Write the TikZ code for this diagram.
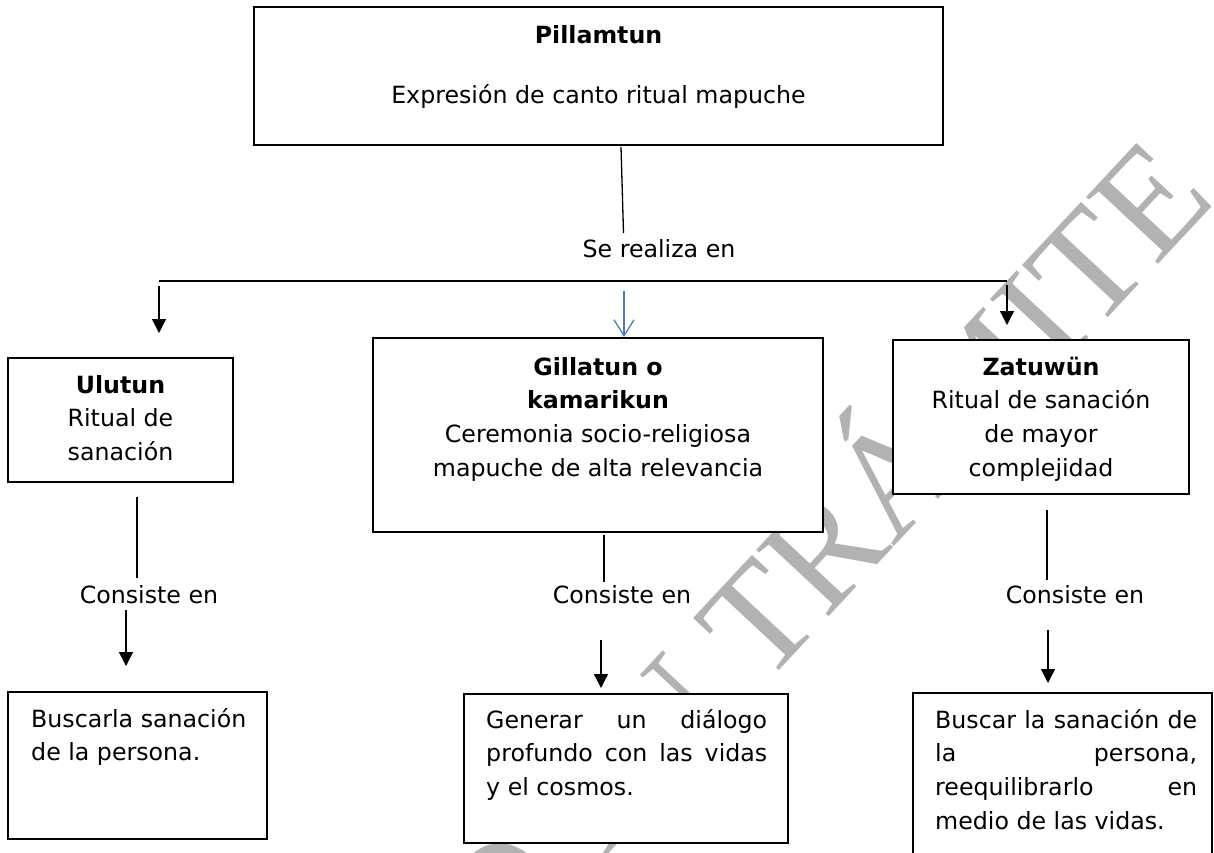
\documentclass[tikz,border=0pt]{standalone}
\usepackage{fontspec}
\setmainfont{DejaVu Sans}
\newfontfamily\wmfont{Liberation Serif}
\usetikzlibrary{arrows.meta}
\definecolor{wmgray}{RGB}{178,178,178}
\definecolor{wordblue}{RGB}{74,126,187}
\newcommand{\mybody}{\fontsize{23.7}{33.7}\selectfont}
\tikzset{
  box/.style={draw, line width=1.5pt, fill=white, inner sep=0pt},
  link/.style={line width=1.3pt},
  darrow/.style={line width=1.3pt, -{Triangle[length=14pt,width=14pt]}},
  barrow/.style={line width=1.3pt, draw=wordblue, -{Straight Barb[length=16pt,width=20pt]}},
  txt/.style={font=\mybody, inner sep=0pt, anchor=base},
  ltxt/.style={font=\mybody, inner sep=0pt, anchor=base west},
  wm/.style={text=wmgray, font=\wmfont\fontsize{150}{150}\selectfont, inner sep=0pt, rotate=47, anchor=base east},
}
\begin{document}
\begin{tikzpicture}[x=1pt,y=-1pt]
\useasboundingbox (0,0) rectangle (1214,852);
\clip (0,0) rectangle (1214,852);
\fill[white] (0,0) rectangle (1214,852);
% watermark
\node[wm] (mark) at (1218,200) {DOCUMENTO EN TRÁMITE};
% boxes
\node[box, minimum width=689pt, minimum height=138pt] (top) at (598.5,76) {};
\node[box, minimum width=225pt, minimum height=124pt] (ulu) at (120.5,420) {};
\node[box, minimum width=450pt, minimum height=194pt] (gil) at (598,435) {};
\node[box, minimum width=296pt, minimum height=154pt] (zat) at (1041,417) {};
\node[box, minimum width=259pt, minimum height=147pt] (bus1) at (137.5,765.5) {};
\node[box, minimum width=324pt, minimum height=149pt] (gen) at (626,768.5) {};
\node[box, minimum width=299pt, minimum height=190pt] (bus2) at (1062.5,788) {};
% texts
\node[txt] (t1) at (598.5,43) {\textbf{Pillamtun}};
\node[txt] (t2) at (598.5,103) {Expresión de canto ritual mapuche};
\node[txt] (ulut) at (120.5,393) {\parbox[t]{220pt}{\mybody\centering\textbf{Ulutun}\\Ritual de\\sanación}};
\node[txt] (gilt) at (598,375) {\parbox[t]{440pt}{\mybody\centering\textbf{Gillatun o}\\\textbf{kamarikun}\\Ceremonia socio-religiosa\\mapuche de alta relevancia}};
\node[txt] (zatt) at (1041,375) {\parbox[t]{290pt}{\mybody\centering\textbf{Zatuwün}\\Ritual de sanación\\de mayor\\complejidad}};
\node[ltxt] (bus1t) at (31,727) {\parbox[t]{230pt}{\mybody Buscarla sanación\\de la persona.}};
\node[ltxt] (gent) at (486,728) {\parbox[t]{281pt}{\mybody\makebox[281pt][s]{Generar un diálogo}\\\makebox[281pt][s]{profundo con las vidas}\\y el cosmos.}};
\node[ltxt] (bus2t) at (935,728) {\parbox[t]{262pt}{\mybody\makebox[262pt][s]{Buscar la sanación de}\\\makebox[262pt][s]{la persona,}\\\makebox[262pt][s]{reequilibrarlo en}\\medio de las vidas.}};
\node[txt] (se) at (659,257) {Se realiza en};
\node[txt] (c1) at (149,603) {Consiste en};
\node[txt] (c2) at (622,603) {Consiste en};
\node[txt] (c3) at (1075,603) {Consiste en};
% connector points
\coordinate (v0a) at (621,147);
\coordinate (v0b) at (623.5,233);
\coordinate (hl) at (159,281);
\coordinate (hr) at (1007,281);
\coordinate (a1a) at (159,286);
\coordinate (a1b) at (159,333);
\coordinate (a2a) at (624,291);
\coordinate (a2b) at (624,337);
\coordinate (a3a) at (1007,285);
\coordinate (a3b) at (1007,325);
\coordinate (l1a) at (137,497);
\coordinate (l1b) at (137,578);
\coordinate (l2a) at (604,535);
\coordinate (l2b) at (604,582);
\coordinate (l3a) at (1047,510);
\coordinate (l3b) at (1047,580);
\coordinate (b1a) at (126,610);
\coordinate (b1b) at (126,666);
\coordinate (b2a) at (601,640);
\coordinate (b2b) at (601,688);
\coordinate (b3a) at (1048,630);
\coordinate (b3b) at (1048,683);
% connectors
\draw[link] (v0a) -- (v0b);
\draw[link] (hl) -- (hr);
\draw[darrow] (a1a) -- (a1b);
\draw[barrow] (a2a) -- (a2b);
\draw[darrow] (a3a) -- (a3b);
\draw[link] (l1a) -- (l1b);
\draw[link] (l2a) -- (l2b);
\draw[link] (l3a) -- (l3b);
\draw[darrow] (b1a) -- (b1b);
\draw[darrow] (b2a) -- (b2b);
\draw[darrow] (b3a) -- (b3b);
\end{tikzpicture}
\end{document}
